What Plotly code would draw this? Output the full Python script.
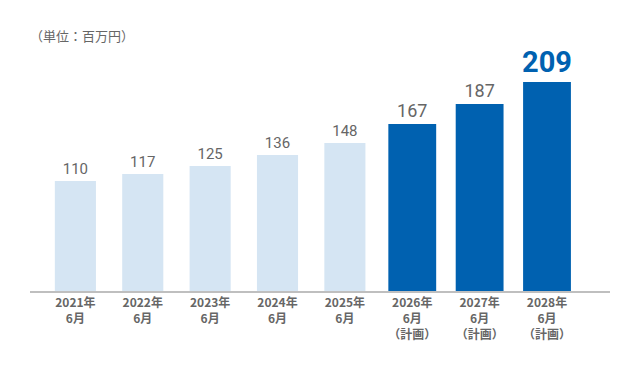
import plotly.graph_objects as go

# ---- data ----
periods = ["2021年<br>6月", "2022年<br>6月", "2023年<br>6月", "2024年<br>6月", "2025年<br>6月",
           "2026年<br>6月<br>（計画）", "2027年<br>6月<br>（計画）", "2028年<br>6月<br>（計画）"]
values = [110, 117, 125, 136, 148, 167, 187, 209]
is_plan = [False, False, False, False, False, True, True, True]
unit_label = "（単位：百万円）"

# ---- styles ----
LIGHT = "#d5e5f3"
DARK = "#0061b0"
GRAY = "#666666"

xs = list(range(len(values)))
colors = [DARK if p else LIGHT for p in is_plan]
widths = [0.61 if not p else 0.71 for p in is_plan]
last = len(values) - 1
txt_sizes = [29 if i == last else (18 if p else 15) for i, p in enumerate(is_plan)]
txt_colors = [DARK if i == last else GRAY for i in range(len(values))]
txt_weights = ["bold" if i == last else "normal" for i in range(len(values))]

fig = go.Figure(go.Bar(
    x=xs, y=values,
    marker=dict(color=colors, line=dict(width=0)),
    width=widths,
    text=[str(v) for v in values],
    textposition="outside",
    constraintext="none",
    cliponaxis=False,
    textfont=dict(family="Roboto", size=txt_sizes, color=txt_colors, weight=txt_weights),
    hoverinfo="skip",
))

fig.update_layout(
    width=640, height=380,
    margin=dict(l=30, r=30, t=40, b=89, autoexpand=False),
    paper_bgcolor="white", plot_bgcolor="white",
    showlegend=False,
    xaxis=dict(
        range=[-0.6737, 7.935], automargin=False,
        tickmode="array", tickvals=xs, ticktext=periods,
        showgrid=False, zeroline=False,
        showline=True, linecolor="#bfbfbf", linewidth=2,
        ticks="", ticklen=0,
        tickfont=dict(family="Noto Sans CJK JP", size=12, color=GRAY, weight="bold"),
        fixedrange=True,
    ),
    yaxis=dict(
        range=[0, 251], visible=False, showgrid=False, zeroline=False, fixedrange=True,
        automargin=False,
    ),
    annotations=[dict(
        text=unit_label, xref="paper", yref="paper", x=-0.003, y=1.016,
        xanchor="left", yanchor="middle", showarrow=False,
        font=dict(family="Noto Sans CJK JP", size=13, color=GRAY),
    )],
)

fig.write_html("out.html", config={"displayModeBar": False},
               post_script="document.body.style.margin='0';")
